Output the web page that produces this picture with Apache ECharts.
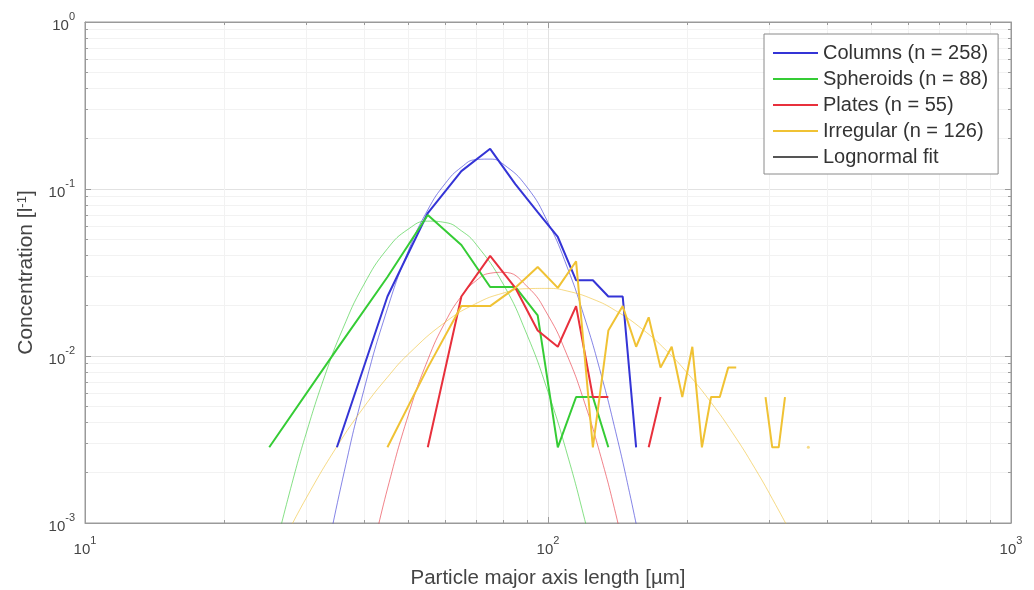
<!DOCTYPE html>
<html>
<head>
<meta charset="utf-8">
<script src="https://cdn.jsdelivr.net/npm/echarts@6/dist/echarts.min.js"></script>
<style>
html, body { margin: 0; padding: 0; background: #fff; }
#chart { width: 1034px; height: 590px; }
</style>
</head>
<body>
<div id="chart"></div>
<script>
// size bins (µm, bin centres) and concentrations (l^-1)
var columnsX = [35, 45, 55, 65, 75, 85, 95, 105, 115, 125, 135, 145, 155];
var columnsY = [0.00284, 0.0227, 0.0718, 0.128, 0.174, 0.107, 0.0728, 0.0516, 0.0284, 0.0284, 0.0227, 0.0227, 0.00284];

var spheroidsX = [25, 35, 45, 55, 65, 75, 85, 95, 105, 115, 125, 135];
var spheroidsY = [0.00284, 0.0110, 0.0297, 0.0699, 0.0462, 0.0259, 0.0259, 0.0175, 0.00284, 0.00568, 0.00568, 0.00284];

var platesX = [55, 65, 75, 85, 95, 105, 115, 125, 135, 145, 155, 165, 175];
var platesY = [0.00284, 0.0227, 0.0398, 0.0256, 0.0142, 0.01136, 0.0199, 0.00568, 0.00568, "-", "-", 0.00284, 0.00568];

var irregularX = [45, 55, 65, 75, 85, 95, 105, 115, 125, 135, 145, 155, 165, 175, 185, 195, 205, 215, 225, 235, 245, 255, 265, 275, 285, 295, 305, 315, 325];
var irregularY = [0.00284, 0.00852, 0.0199, 0.0199, 0.0256, 0.0341, 0.0256, 0.0369, 0.00284, 0.0142, 0.0199, 0.01136, 0.01704, 0.00852, 0.01136, 0.00568, 0.01136, 0.00284, 0.00568, 0.00568, 0.00852, 0.00852, "-", "-", "-", 0.00568, 0.00284, 0.00284, 0.00568];
var irregularDotX = [365];
var irregularDotY = [0.00284];

// lognormal fit curves, sampled by eye
var columnsFitX = [33, 36, 40, 45, 50, 55, 60, 65, 70, 75, 80, 90, 100, 110, 120, 130, 140, 150, 160];
var columnsFitY = [0.000577, 0.00183, 0.00621, 0.0192, 0.043, 0.075, 0.108, 0.135, 0.150, 0.151, 0.141, 0.103, 0.063, 0.0341, 0.0169, 0.0079, 0.00352, 0.00152, 0.000644];

var spheroidsFitX = [26, 28, 30, 33, 36, 40, 45, 50, 55, 60, 65, 70, 80, 90, 100, 110, 120, 130];
var spheroidsFitY = [0.000778, 0.00173, 0.0034, 0.00769, 0.01445, 0.0267, 0.0439, 0.0577, 0.0642, 0.063, 0.0562, 0.0465, 0.027, 0.0135, 0.0061, 0.00259, 0.00105, 0.00042];

var platesFitX = [42, 45, 50, 55, 60, 65, 70, 75, 80, 90, 100, 110, 120, 130, 140, 150];
var platesFitY = [0.000721, 0.0016, 0.00449, 0.00948, 0.016, 0.0228, 0.0283, 0.0313, 0.0317, 0.0262, 0.01754, 0.0101, 0.00524, 0.00251, 0.00114, 0.00049];

var irregularFitX = [27, 30, 35, 40, 45, 50, 60, 70, 80, 90, 100, 110, 125, 140, 160, 180, 200, 225, 250, 280, 310, 340];
var irregularFitY = [0.000805, 0.0014, 0.00287, 0.00493, 0.00746, 0.0103, 0.01595, 0.02065, 0.0238, 0.0253, 0.0254, 0.0245, 0.0219, 0.01868, 0.01445, 0.0108, 0.0079, 0.00527, 0.00349, 0.00212, 0.00129, 0.0008];

var legendNames = ["Columns (n = 258)", "Spheroids (n = 88)", "Plates (n = 55)", "Irregular (n = 126)", "Lognormal fit"];

var colBlue = "#3434d6";
var colGreen = "#35cc35";
var colRed = "#e8303c";
var colYellow = "#f0c234";
var font = "Liberation Sans, Arial, Helvetica, sans-serif";
var txt = "#444";

function pairs(xs, ys) {
  return xs.map(function (x, i) { return [x, ys[i]]; });
}

function dataLine(name, xs, ys, color) {
  return {
    name: name,
    type: "line",
    data: pairs(xs, ys),
    showSymbol: false,
    connectNulls: false,
    color: color,
    lineStyle: { color: color, width: 2 },
    z: 3
  };
}

function fitLine(name, xs, ys, color) {
  return {
    name: name,
    type: "line",
    data: pairs(xs, ys),
    showSymbol: false,
    smooth: true,
    color: color,
    lineStyle: { color: color, width: 1, opacity: 0.6 },
    z: 2
  };
}

var supLabel = {
  fontFamily: font,
  color: txt,
  formatter: function (v) {
    return "{b|10}{s|" + Math.round(Math.log10(v)) + "}";
  },
  rich: {
    b: { fontFamily: font, fontSize: 15, color: txt, lineHeight: 22, verticalAlign: "bottom" },
    s: { fontFamily: font, fontSize: 11, color: txt, lineHeight: 12, verticalAlign: "top" }
  }
};

var axisCommon = {
  type: "log",
  logBase: 10,
  axisLine: { show: true, lineStyle: { color: "#9a9a9a" } },
  axisTick: { show: true, inside: true, length: 6, lineStyle: { color: "#9a9a9a" } },
  minorTick: { show: true, splitNumber: 9, length: 3, lineStyle: { color: "#9a9a9a" } },
  splitLine: { show: true, lineStyle: { color: "#e2e2e2" } },
  minorSplitLine: { show: true, lineStyle: { color: "#f2f2f2" } }
};

var chart = echarts.init(document.getElementById("chart"));

var option = {
  animation: false,
  backgroundColor: "#fff",
  grid: {
    left: 85, right: 23, top: 22, bottom: 67,
    outerBoundsMode: "none",
    show: true, borderColor: "#9a9a9a", borderWidth: 1, backgroundColor: "transparent"
  },
  legend: {
    data: legendNames,
    orient: "vertical",
    left: 764,
    top: 34,
    backgroundColor: "#fff",
    borderColor: "#8a8a8a",
    borderWidth: 1,
    padding: [9, 10, 7, 9],
    itemWidth: 45,
    itemHeight: 2,
    itemGap: 6,
    icon: "rect",
    textStyle: { fontFamily: font, fontSize: 20, color: "#333" }
  },
  xAxis: [
    Object.assign({}, axisCommon, {
      min: 10, max: 1000,
      position: "bottom",
      axisLabel: Object.assign({ margin: 12 }, supLabel),
      name: "Particle major axis length [\u00b5m]",
      nameLocation: "middle",
      nameGap: 45,
      nameTextStyle: { fontFamily: font, fontSize: 20.5, color: txt }
    }),
    Object.assign({}, axisCommon, {
      min: 10, max: 1000,
      position: "top",
      axisLabel: { show: false },
      splitLine: { show: false },
      minorSplitLine: { show: false }
    })
  ],
  yAxis: [
    Object.assign({}, axisCommon, {
      min: 0.001, max: 1,
      position: "left",
      axisLabel: Object.assign({ margin: 10 }, supLabel),
      name: "Concentration [l{s|-1}]",
      nameLocation: "middle",
      nameGap: 48,
      nameTextStyle: {
        fontFamily: font, fontSize: 21, color: txt,
        rich: { s: { fontFamily: font, fontSize: 13, color: txt, verticalAlign: "top", lineHeight: 13 } }
      }
    }),
    Object.assign({}, axisCommon, {
      min: 0.001, max: 1,
      position: "right",
      axisLabel: { show: false },
      splitLine: { show: false },
      minorSplitLine: { show: false }
    })
  ],
  series: [
    fitLine("Columns fit", columnsFitX, columnsFitY, colBlue),
    fitLine("Spheroids fit", spheroidsFitX, spheroidsFitY, colGreen),
    fitLine("Plates fit", platesFitX, platesFitY, colRed),
    fitLine("Irregular fit", irregularFitX, irregularFitY, colYellow),
    dataLine(legendNames[0], columnsX, columnsY, colBlue),
    dataLine(legendNames[1], spheroidsX, spheroidsY, colGreen),
    dataLine(legendNames[2], platesX, platesY, colRed),
    dataLine(legendNames[3], irregularX, irregularY, colYellow),
    {
      name: "Irregular dot",
      type: "scatter",
      data: pairs(irregularDotX, irregularDotY),
      symbolSize: 3,
      itemStyle: { color: colYellow, opacity: 0.6 }
    },
    {
      name: legendNames[4],
      type: "line",
      data: [],
      color: "#555",
      lineStyle: { color: "#555", width: 1 }
    }
  ]
};

chart.setOption(option);
</script>
</body>
</html>
